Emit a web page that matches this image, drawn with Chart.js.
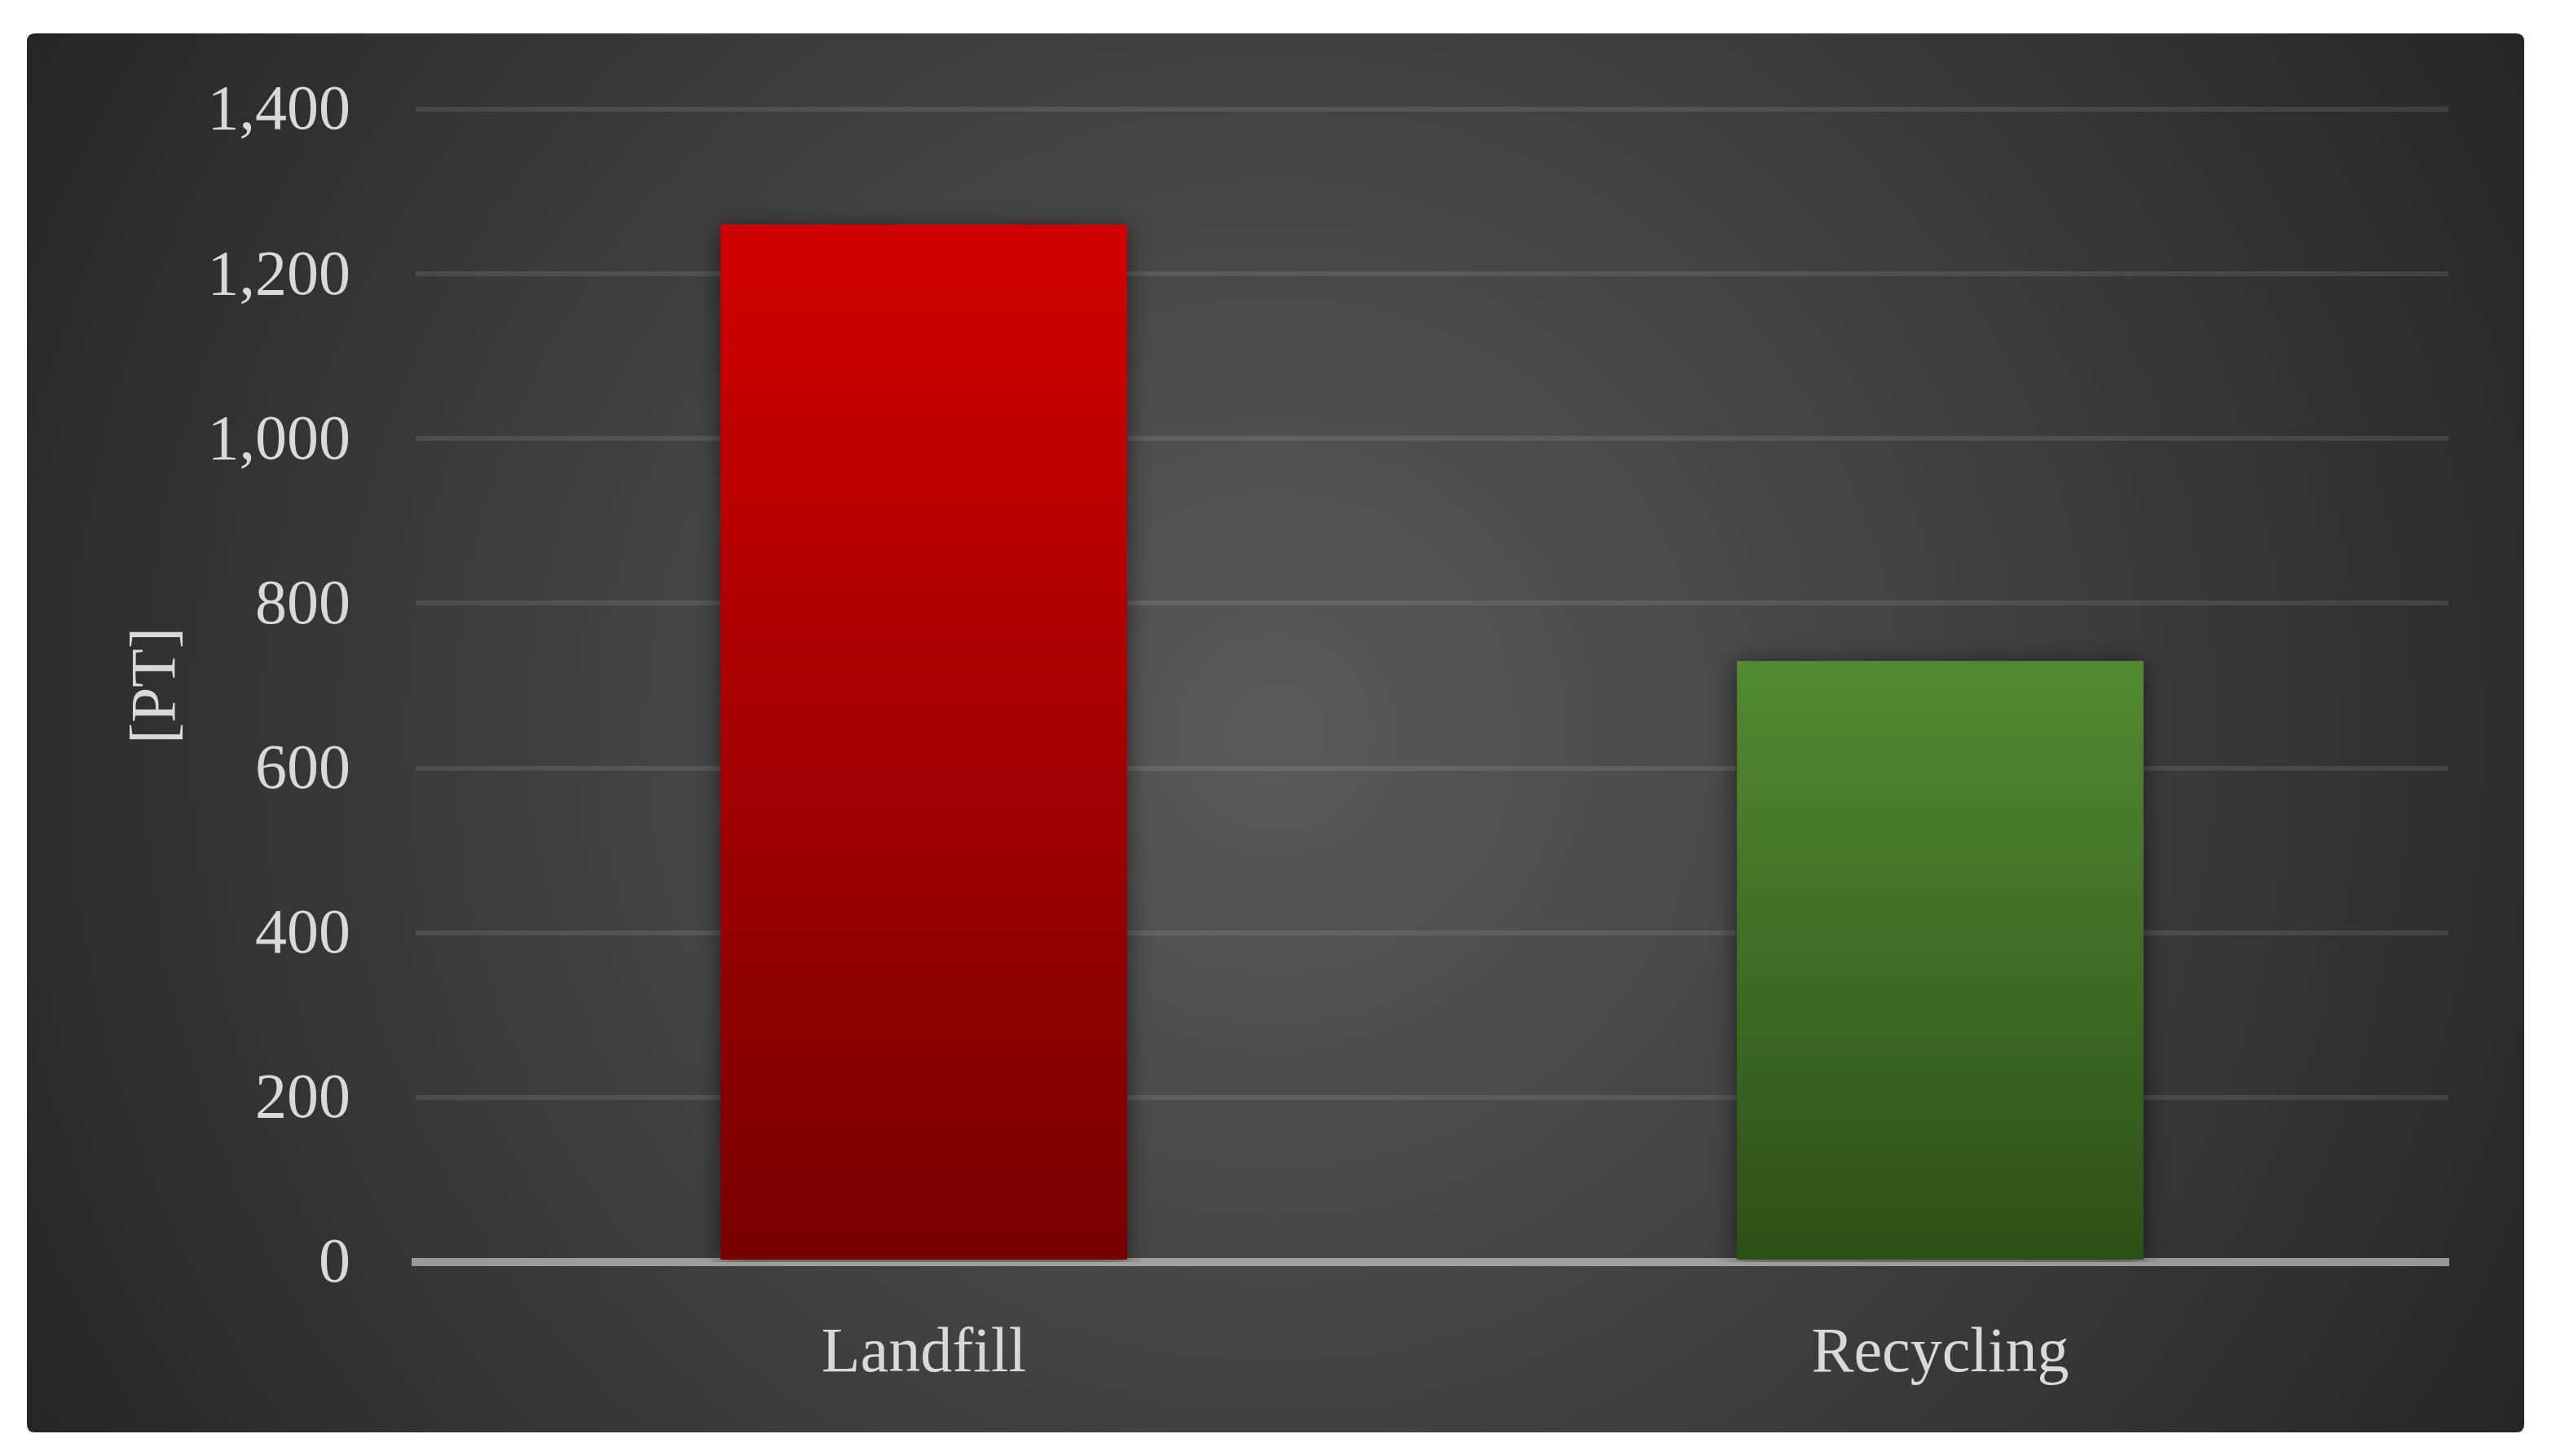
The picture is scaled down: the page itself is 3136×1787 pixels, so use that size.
<!DOCTYPE html>
<html>
<head>
<meta charset="utf-8">
<script src="https://cdn.jsdelivr.net/npm/chart.js@4.4.1/dist/chart.umd.min.js"></script>
<style>
  html, body { margin: 0; padding: 0; background: #ffffff; }
  #wrap { width: 3136px; height: 1787px; position: relative; }
</style>
</head>
<body>
<div id="wrap"><canvas id="c" width="3136" height="1787"></canvas></div>
<script>
const categories = ['Landfill', 'Recycling'];
const values = [1260, 730];
const yTicks = [0, 200, 400, 600, 800, 1000, 1200, 1400];
const axisTitle = '[PT]';
const barTopColors = ['#d20000', '#548a33'];
const barBottomColors = ['#780000', '#2c5016'];

const FONT = "'Liberation Serif', 'DejaVu Serif', serif";
const TEXT = '#d9d9d9';

const panelPlugin = {
  id: 'panel',
  beforeDraw(chart) {
    const ctx = chart.ctx;
    const x0 = 33, y0 = 41, x1 = 3097, y1 = 1758, r = 10;
    ctx.save();
    const cx = (x0 + x1) / 2, cy = (y0 + y1) / 2;
    const g = ctx.createRadialGradient(cx, cy, 0, cx, cy, Math.hypot(x1 - cx, y1 - cy));
    g.addColorStop(0, '#5a5a5a');
    g.addColorStop(1, '#262626');
    ctx.fillStyle = g;
    ctx.beginPath();
    ctx.moveTo(x0 + r, y0);
    ctx.lineTo(x1 - r, y0);
    ctx.quadraticCurveTo(x1, y0, x1, y0 + r);
    ctx.lineTo(x1, y1 - r);
    ctx.quadraticCurveTo(x1, y1, x1 - r, y1);
    ctx.lineTo(x0 + r, y1);
    ctx.quadraticCurveTo(x0, y1, x0, y1 - r);
    ctx.lineTo(x0, y0 + r);
    ctx.quadraticCurveTo(x0, y0, x0 + r, y0);
    ctx.closePath();
    ctx.fill();
    ctx.restore();
  }
};

const shadowPlugin = {
  id: 'barShadow',
  beforeDatasetDraw(chart) {
    const ctx = chart.ctx;
    ctx.save();
    ctx.shadowColor = 'rgba(0,0,0,0.55)';
    ctx.shadowBlur = 28;
    ctx.shadowOffsetX = 0;
    ctx.shadowOffsetY = 4;
  },
  afterDatasetDraw(chart) {
    chart.ctx.restore();
  }
};

function barGradient(context) {
  const chart = context.chart;
  const area = chart.chartArea;
  if (!area) return barTopColors[context.dataIndex] || '#888';
  const i = context.dataIndex;
  const yScale = chart.scales.y;
  const top = yScale.getPixelForValue(values[i]);
  const bottom = yScale.getPixelForValue(0);
  const g = chart.ctx.createLinearGradient(0, top, 0, bottom);
  g.addColorStop(0, barTopColors[i]);
  g.addColorStop(1, barBottomColors[i]);
  return g;
}

new Chart(document.getElementById('c'), {
  type: 'bar',
  data: {
    labels: categories,
    datasets: [{
      data: values,
      backgroundColor: barGradient,
      borderWidth: 0,
      barPercentage: 0.4,
      categoryPercentage: 1.0
    }]
  },
  options: {
    responsive: false,
    animation: false,
    devicePixelRatio: 1,
    layout: { padding: { left: 0, right: 132, top: 134, bottom: 0 } },
    plugins: { legend: { display: false }, tooltip: { enabled: false } },
    scales: {
      x: {
        z: 1,
        grid: { display: false, drawTicks: false },
        border: { display: true, color: 'rgba(228,228,228,0.58)', width: 10 },
        ticks: { color: TEXT, font: { family: FONT, size: 78 }, padding: 67 },
        afterFit(scale) { scale.height = 238; }
      },
      y: {
        min: 0,
        max: 1400,
        afterBuildTicks(scale) { scale.ticks = yTicks.map(v => ({ value: v })); },
        grid: {
          drawTicks: false,
          color: (c) => (c.tick && c.tick.value === 0) ? 'rgba(0,0,0,0)' : 'rgba(255,255,255,0.1)',
          lineWidth: 6
        },
        border: { display: false },
        ticks: {
          color: TEXT,
          font: { family: FONT, size: 78 },
          padding: 80,
          labelOffset: 4,
          callback: (v) => Number(v).toLocaleString('en-US')
        },
        title: {
          display: true,
          text: axisTitle,
          color: TEXT,
          font: { family: FONT, size: 78 },
          padding: { top: 147, bottom: 0 }
        },
        afterFit(scale) { scale.width = 510; }
      }
    }
  },
  plugins: [panelPlugin, shadowPlugin]
});
</script>
</body>
</html>
